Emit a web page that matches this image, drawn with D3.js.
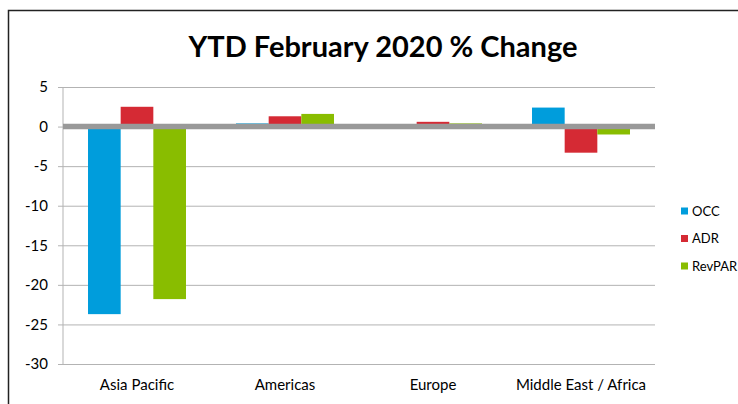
<!DOCTYPE html>
<html lang="en">
<head>
    <meta charset="utf-8">
    <title>YTD February 2020 % Change</title>
    <script src="https://d3js.org/d3.v7.min.js"></script>
    <style>
        body { margin: 0; background: #fff; }
        text { font-family: Lato, "Open Sans", sans-serif; fill: #000; }
        .grid .tick line { stroke: #b3b3b3; stroke-width: 1; }
        .grid .domain { display: none; }
        .grid .tick text { font-size: 15px; }
        .xlab { font-size: 15px; }
        .legend text { font-size: 13px; }
    </style>
</head>
<body>

<script>
    const categories = ["Asia Pacific", "Americas", "Europe", "Middle East / Africa"];
    const seriesNames = ["OCC", "ADR", "RevPAR"];
    const occ = [-23.7, 0.4, -0.2, 2.4];
    const adr = [2.5, 1.3, 0.6, -3.3];
    const revpar = [-21.8, 1.6, 0.4, -1.0];
    const yTicks = [5, 0, -5, -10, -15, -20, -25, -30];
    const colors = ["#009ddc", "#d52a34", "#89bd00"];

    const series = [occ, adr, revpar];

    const svg = d3.select("body").append("svg").attr("width", 738).attr("height", 404);

    // outer frame
    svg.append("rect")
        .attr("x", 8.5).attr("y", 10.5).attr("width", 760).attr("height", 420)
        .attr("fill", "none").attr("stroke", "#222").attr("stroke-width", 1.5);

    svg.append("text")
        .attr("x", 383).attr("y", 57)
        .attr("text-anchor", "middle")
        .style("font-size", "29px").style("font-weight", "bold")
        .text("YTD February 2020 % Change");

    const left = 63, right = 655;
    const scaleY = d3.scaleLinear().domain([-30, 5]).range([364, 87]);
    const scaleX = d3.scaleBand().domain(categories).range([left, right])
        .paddingInner(0.338).paddingOuter(0.169);
    const scaleS = d3.scaleBand().domain(seriesNames).range([0, scaleX.bandwidth()]);

    const yAxis = d3.axisLeft(scaleY).tickValues(yTicks)
        .tickFormat(d => String(d))
        .tickSize(right - left + 5).tickPadding(10);
    svg.append("g").attr("class", "grid")
        .attr("transform", `translate(${right},0)`)
        .call(yAxis);

    svg.append("line")
        .attr("x1", left).attr("x2", left)
        .attr("y1", scaleY(5)).attr("y2", scaleY(-30))
        .attr("stroke", "#b3b3b3");

    seriesNames.forEach((name, s) => {
        svg.append("g").selectAll("rect")
            .data(series[s]).enter()
            .append("rect")
            .attr("x", (d, i) => scaleX(categories[i]) + scaleS(name))
            .attr("width", scaleS.bandwidth())
            .attr("y", d => scaleY(Math.max(0, d)))
            .attr("height", d => Math.abs(scaleY(d) - scaleY(0)))
            .attr("fill", colors[s]);
    });

    // zero line
    svg.append("line")
        .attr("x1", left).attr("x2", right)
        .attr("y1", scaleY(0)).attr("y2", scaleY(0))
        .attr("stroke", "#999").attr("stroke-width", 5.5);

    svg.append("g").selectAll("text")
        .data(categories).enter()
        .append("text").attr("class", "xlab")
        .attr("x", d => scaleX(d) + scaleX.bandwidth() / 2)
        .attr("y", 390)
        .attr("text-anchor", "middle")
        .text(d => d);

    const legend = svg.append("g").attr("class", "legend");
    seriesNames.forEach((name, s) => {
        const y = 211 + s * 27.5;
        legend.append("rect").attr("x", 681).attr("y", y - 3.5)
            .attr("width", 7).attr("height", 7).attr("fill", colors[s]);
        legend.append("text").attr("x", 692).attr("y", y + 4.5).text(name);
    });
</script>

</body>
</html>
